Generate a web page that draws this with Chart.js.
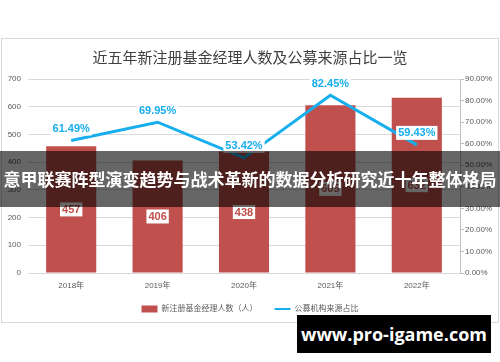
<!DOCTYPE html>
<html lang="zh">
   <head>
      <meta charset="UTF-8" />
      <meta name="viewport" content="width=device-width, initial-scale=1.0" />
      <title>近五年新注册基金经理人数及公募来源占比一览</title>
      <script src="https://cdn.jsdelivr.net/npm/chart.js"></script>
      <style>
         body {
            margin: 0;
            overflow: hidden;
            background: #fff;
         }
         #wrap {
            position: relative;
            width: 500px;
            height: 362px;
         }
         .banner {
            position: absolute;
            left: 0;
            top: 151px;
            width: 500px;
            height: 56px;
            background: rgba(0, 0, 0, 0.6);
            color: #fff;
            font: bold 17px 'Noto Sans CJK SC', sans-serif;
            line-height: 56px;
            text-align: center;
            white-space: nowrap;
         }
         .mark {
            position: absolute;
            left: 297px;
            top: 315px;
            width: 194px;
            height: 38px;
            background: #000;
            color: #fff;
            font: bold 18px 'Open Sans', sans-serif;
            line-height: 38px;
            text-align: center;
         }
      </style>
   </head>
   <body>
      <div id="wrap">
         <canvas id="chart" width="500" height="362"></canvas>
         <div class="banner">意甲联赛阵型演变趋势与战术革新的数据分析研究近十年整体格局</div>
         <div class="mark">www.pro-igame.com</div>
      </div>
      <script>
         const years = ['2018年', '2019年', '2020年', '2021年', '2022年'];
         const managers = [457, 406, 438, 605, 632]; // 新注册基金经理人数
         const publicShare = [61.49, 69.95, 53.42, 82.45, 59.43]; // 公募机构来源占比 (%)

         const red = '#C0504D';
         const blue = '#17AEEE';
         const font = "'Liberation Sans', 'Noto Sans CJK SC', sans-serif";

         // light grey frame round the whole chart
         const frame = {
            id: 'frame',
            beforeDraw(chart) {
               const ctx = chart.ctx;
               ctx.save();
               ctx.strokeStyle = '#D9D9D9';
               ctx.lineWidth = 1;
               ctx.strokeRect(1.5, 38.5, 497, 284);
               ctx.restore();
            },
         };

         function labelBox(ctx, text, x, y, color) {
            ctx.font = 'bold 11px ' + font;
            const w = ctx.measureText(text).width + 4;
            ctx.fillStyle = '#fff';
            ctx.fillRect(x - w / 2, y - 7, w, 14);
            ctx.fillStyle = color;
            ctx.fillText(text, x, y + 0.5);
         }

         // value labels, placed from the library's own elements
         const valueLabels = {
            id: 'valueLabels',
            afterDatasetsDraw(chart) {
               const ctx = chart.ctx;
               ctx.save();
               ctx.textAlign = 'center';
               ctx.textBaseline = 'middle';
               chart.getDatasetMeta(0).data.forEach((bar, i) => {
                  labelBox(ctx, String(managers[i]), bar.x, (bar.y + bar.base) / 2, red);
               });
               chart.getDatasetMeta(1).data.forEach((pt, i) => {
                  labelBox(ctx, publicShare[i].toFixed(2) + '%', pt.x, pt.y - 12, blue);
               });
               ctx.restore();
            },
         };

         new Chart(document.getElementById('chart'), {
            data: {
               labels: years,
               datasets: [
                  {
                     type: 'bar',
                     label: '新注册基金经理人数（人）',
                     data: managers,
                     backgroundColor: red,
                     yAxisID: 'y',
                     categoryPercentage: 1,
                     barPercentage: 0.58,
                     order: 1,
                     pointStyle: 'rect',
                  },
                  {
                     type: 'line',
                     label: '公募机构来源占比',
                     data: publicShare,
                     borderColor: blue,
                     backgroundColor: blue,
                     borderWidth: 3,
                     pointRadius: 0,
                     tension: 0,
                     yAxisID: 'y1',
                     order: 0,
                     pointStyle: 'line',
                  },
               ],
            },
            options: {
               responsive: false,
               animation: false,
               layout: {
                  padding: { top: 38, bottom: 39, left: 0, right: 0 },
               },
               plugins: {
                  tooltip: { enabled: false },
                  title: {
                     display: true,
                     text: '近五年新注册基金经理人数及公募来源占比一览',
                     color: '#404040',
                     font: { family: "'Noto Sans CJK SC', sans-serif", size: 15, weight: 'normal' },
                     padding: { top: 10, bottom: 13 },
                  },
                  legend: {
                     position: 'bottom',
                     labels: {
                        usePointStyle: true,
                        pointStyleWidth: 16,
                        boxHeight: 7,
                        padding: 13,
                        color: '#595959',
                        font: { family: font, size: 8 },
                        sort: (a, b) => a.datasetIndex - b.datasetIndex,
                        generateLabels(chart) {
                           const items = Chart.defaults.plugins.legend.labels.generateLabels(chart);
                           items.forEach((item) => {
                              if (item.datasetIndex === 0) item.text += '\u3000'; // wider gap between items
                              if (item.datasetIndex === 1) item.lineWidth = 2;
                           });
                           return items;
                        },
                     },
                  },
               },
               scales: {
                  x: {
                     grid: { display: false, drawTicks: false },
                     border: { display: false },
                     ticks: { color: '#595959', font: { family: font, size: 8 }, padding: 8 },
                     afterFit(scale) {
                        scale.height = 19;
                     },
                  },
                  y: {
                     position: 'left',
                     min: 0,
                     max: 700,
                     ticks: { stepSize: 100, color: '#595959', font: { family: font, size: 8 }, padding: 7 },
                     grid: { color: '#D9D9D9', drawTicks: false },
                     border: { display: false },
                     afterFit(scale) {
                        scale.width = 28;
                     },
                  },
                  y1: {
                     position: 'right',
                     min: 0,
                     max: 90,
                     ticks: {
                        stepSize: 10,
                        color: '#595959',
                        font: { family: font, size: 8 },
                        padding: 1,
                        callback: (v) => v.toFixed(2) + '%',
                     },
                     grid: { drawOnChartArea: false, color: '#BFBFBF', tickLength: 4 },
                     border: { display: true, color: '#BFBFBF' },
                     afterFit(scale) {
                        scale.width = 40;
                     },
                  },
               },
            },
            plugins: [frame, valueLabels],
         });
      </script>
   </body>
</html>
